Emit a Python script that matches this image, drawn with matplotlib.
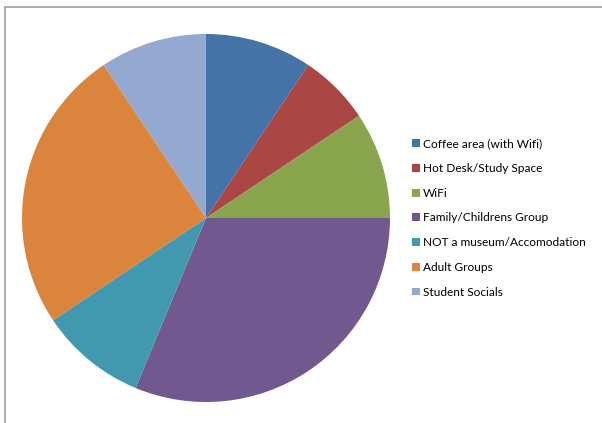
import matplotlib
matplotlib.use("Agg")
import matplotlib.pyplot as plt
from matplotlib.lines import Line2D

# ------------------------------------------------------------
# data
# ------------------------------------------------------------
labels = [
    "Coffee area (with Wifi)",
    "Hot Desk/Study Space",
    "WiFi",
    "Family/Childrens Group",
    "NOT a museum/Accomodation",
    "Adult Groups",
    "Student Socials",
]
counts = [3, 2, 3, 10, 3, 8, 3]
colors = ["#4572A7", "#AA4643", "#89A54E", "#71588F", "#4198AF", "#DB843D", "#93A9CF"]

W, H = 602, 423
fig = plt.figure(figsize=(W / 100, H / 100), dpi=100)
fig.patch.set_facecolor("white")

# pie area, centre at (206, 218) px, radius 184 px
cx, cy, r = 206, 218, 184
ax = fig.add_axes([(cx - r) / W, (H - cy - r) / H, 2 * r / W, 2 * r / H])
wedges, _ = ax.pie(counts, colors=colors, startangle=90, counterclock=False,
                   radius=1.0, wedgeprops=dict(linewidth=0))
ax.set_xlim(-1, 1)
ax.set_ylim(-1, 1)
ax.set_aspect("equal")
ax.axis("off")

# legend
fig.legend(wedges, labels, loc="upper left",
           bbox_to_anchor=(407 / W, 1 - 133.5 / H),
           frameon=False, handlelength=0.65, handleheight=0.65,
           handletextpad=0.3, labelspacing=1.15, borderaxespad=0,
           prop={"family": "Lato", "size": 8.6})

# chart frame (top and left edges)
fig.add_artist(Line2D([5 / W, 1], [1 - 7.5 / H, 1 - 7.5 / H], color="#a0a0a0", lw=1.2))
fig.add_artist(Line2D([5 / W, 5 / W], [0, 1 - 7.5 / H], color="#a0a0a0", lw=1.2))

fig.savefig("out.png", dpi=100)
